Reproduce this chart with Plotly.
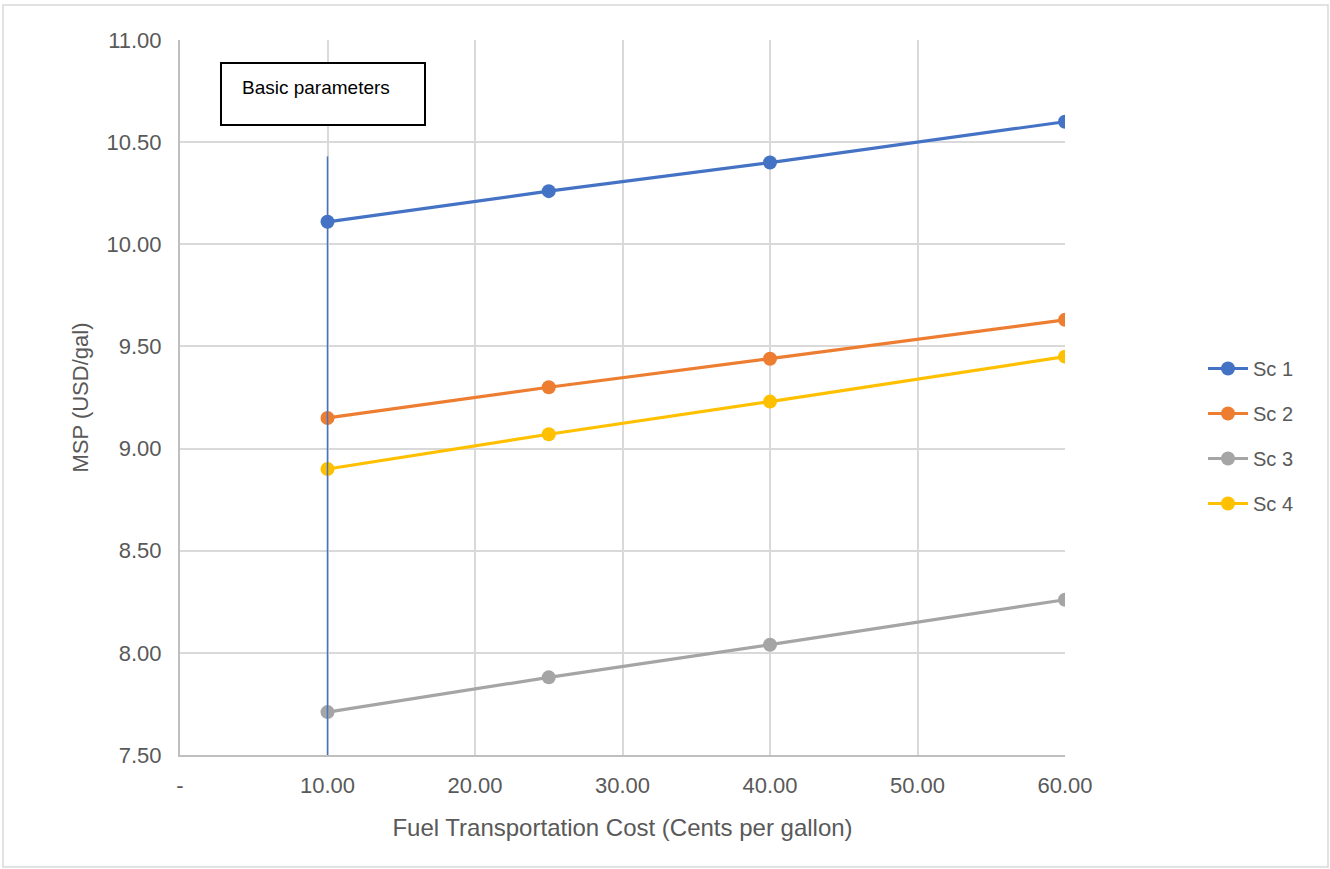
import plotly.graph_objects as go

x_cost = [10, 25, 40, 60]
sc1 = [10.11, 10.26, 10.40, 10.60]
sc2 = [9.15, 9.30, 9.44, 9.63]
sc3 = [7.71, 7.88, 8.04, 8.26]
sc4 = [8.90, 9.07, 9.23, 9.45]
series_names = ["Sc 1", "Sc 2", "Sc 3", "Sc 4"]
series_colors = ["#4472C4", "#ED7D31", "#A5A5A5", "#FFC000"]
x_tickvals = [0, 10, 20, 30, 40, 50, 60]
x_ticktext = ["-", "10.00", "20.00", "30.00", "40.00", "50.00", "60.00"]
marker_line_x = 10
marker_line_top = 10.43

W, H = 1330, 869
L, R, T, B = 180, 265, 40, 114
FONT = "Liberation Sans"
GRAY = "#595959"

fig = go.Figure()
for i, (name, ys, col) in enumerate(zip(series_names, [sc1, sc2, sc3, sc4], series_colors)):
    fig.add_trace(go.Scatter(
        x=x_cost, y=ys, name=name, mode="lines+markers",
        line=dict(color=col, width=3.2),
        marker=dict(color=col, size=14),
        legendgroup=f"g{i}",
    ))

# vertical reference line
fig.add_shape(type="line", x0=marker_line_x, x1=marker_line_x, y0=7.5, y1=marker_line_top,
              xref="x", yref="y", line=dict(color="#4472C4", width=1.5), layer="above")

pw = W - L - R
ph = H - T - B
def px2paper_x(px):
    return (px - L) / pw
def px2paper_y(py):
    return (H - B - py) / ph

# text box
fig.add_shape(type="rect", xref="paper", yref="paper",
              x0=px2paper_x(221), x1=px2paper_x(425), y0=px2paper_y(125), y1=px2paper_y(63),
              line=dict(color="black", width=2), fillcolor="white", layer="above")
fig.add_annotation(text="Basic parameters", xref="paper", yref="paper",
                   x=px2paper_x(240), y=px2paper_y(87), xanchor="left", yanchor="middle",
                   showarrow=False, font=dict(family=FONT, size=19, color="black"))

# outer border
fig.add_shape(type="rect", xref="paper", yref="paper",
              x0=px2paper_x(3), x1=px2paper_x(1328), y0=px2paper_y(867), y1=px2paper_y(5),
              line=dict(color="#D9D9D9", width=1.5), layer="below")

fig.update_layout(
    width=W, height=H,
    margin=dict(l=L, r=R, t=T, b=B),
    paper_bgcolor="white", plot_bgcolor="white",
    font=dict(family=FONT, size=22, color=GRAY),
    showlegend=True,
    legend=dict(x=px2paper_x(1203), y=px2paper_y(436), xanchor="left", yanchor="middle",
                traceorder="grouped", tracegroupgap=16,
                font=dict(family=FONT, size=20, color=GRAY), itemwidth=40),
    xaxis=dict(range=[0, 60], tickvals=x_tickvals, ticktext=x_ticktext,
               showgrid=True, gridcolor="#D9D9D9", gridwidth=1.5,
               showline=True, linecolor="#BFBFBF", linewidth=2,
               zeroline=False, ticks="", ticklabelstandoff=10,
               tickfont=dict(family=FONT, size=22, color=GRAY),
               title=dict(text="Fuel Transportation Cost (Cents per gallon)", standoff=22,
                          font=dict(family=FONT, size=24, color=GRAY))),
    yaxis=dict(range=[7.5, 11], dtick=0.5, tickformat=".2f",
               showgrid=True, gridcolor="#D9D9D9", gridwidth=1.5,
               showline=True, linecolor="#BFBFBF", linewidth=2,
               zeroline=False, ticks="", ticklabelstandoff=12,
               tickfont=dict(family=FONT, size=22, color=GRAY),
               title=dict(text="MSP (USD/gal)", standoff=12,
                          font=dict(family=FONT, size=22, color=GRAY))),
)

fig.write_html("out.html", config={"displayModeBar": False},
               post_script="document.body.style.margin='0';document.body.style.overflow='hidden';")
